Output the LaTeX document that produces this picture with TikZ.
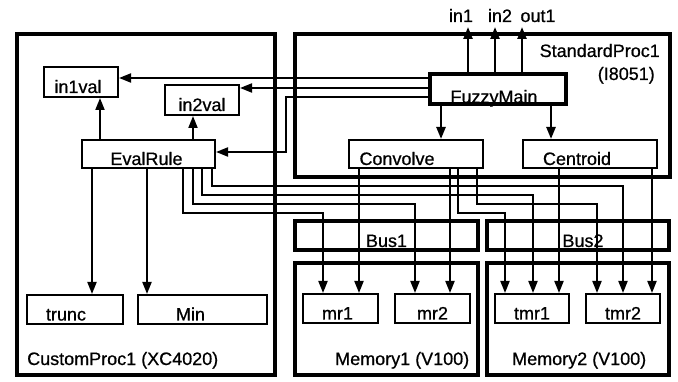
\documentclass[tikz,border=0pt]{standalone}
\usepackage{fontspec}
\setmainfont{Liberation Sans}[FakeBold=0.7]
\usetikzlibrary{arrows.meta}
\begin{document}
\begin{tikzpicture}[x=1pt,y=-1pt,
  every node/.style={font=\fontsize{18}{20}\selectfont},
  outerbox/.style={draw,line width=3.2pt,inner sep=0pt},
  busbox/.style={draw,line width=3.2pt,inner sep=0pt},
  blk/.style={draw,line width=2pt,inner sep=0pt,text height=22pt,text depth=0pt},
  wire/.style={line width=1.8pt},
  arr/.style={wire,-{Triangle[length=12pt,width=9pt]}},
  arrthick/.style={line width=2.4pt,-{Triangle[length=12pt,width=9pt]}},
  lbl/.style={inner sep=0pt}]
\useasboundingbox (0,0) rectangle (678,382);
% outer boxes
\node[outerbox,minimum width=258pt,minimum height=341pt] (cp) at (146,204.5) {};
\node[outerbox,minimum width=375pt,minimum height=143pt] (sp) at (482.5,105.5) {};
\node[busbox,minimum width=183pt,minimum height=29pt] (bus1) at (386.5,235.5) {};
\node[busbox,minimum width=182pt,minimum height=29pt] (bus2) at (578,235.5) {};
\node[outerbox,minimum width=183pt,minimum height=112pt] (mem1) at (386.5,319) {};
\node[outerbox,minimum width=182pt,minimum height=112pt] (mem2) at (578,319) {};
% labels
\node[lbl,anchor=base west] (cpl) at (27,365) {CustomProc1 (XC4020)};
\node[lbl,anchor=base east] (spl) at (660,57) {StandardProc1};
\node[lbl,anchor=base east] (spl2) at (655,80) {(I8051)};
\node[lbl,anchor=base west] (m1l) at (335,365) {Memory1 (V100)};
\node[lbl,anchor=base west] (m2l) at (512,365) {Memory2 (V100)};
\node[lbl,anchor=base] (b1l) at (386.5,247) {Bus1};
\node[lbl,anchor=base] (b2l) at (583,247) {Bus2};
\node[lbl,anchor=base] (in1) at (461,22) {in1};
\node[lbl,anchor=base] (in2) at (500,22) {in2};
\node[lbl,anchor=base] (out1) at (538,22) {out1};
% inner nodes
\node[blk,minimum width=74pt,minimum height=30pt] (in1val) at (81,82) {in1val\hspace*{6pt}};
\node[blk,minimum width=74pt,minimum height=30pt] (in2val) at (202,100) {in2val};
\node[blk,minimum width=133pt,minimum height=28pt] (eval) at (148.5,154) {EvalRule\hspace*{4pt}};
\node[blk,line width=3.2pt,text height=28pt,minimum width=136pt,minimum height=30pt] (fuzzy) at (498,89) {FuzzyMain\hspace*{8pt}};
\node[blk,minimum width=134pt,minimum height=28pt] (conv) at (416,154) {Convolve\hspace*{38pt}};
\node[blk,minimum width=134pt,minimum height=28pt] (cent) at (590,154) {Centroid\hspace*{26pt}};
\node[blk,minimum width=96pt,minimum height=29pt] (trunc) at (75,309.5) {trunc\hspace*{18pt}};
\node[blk,minimum width=129pt,minimum height=29pt] (min) at (202.5,309.5) {Min\hspace*{24pt}};
\node[blk,minimum width=75pt,minimum height=29pt] (mr1) at (340.5,308.5) {mr1\hspace*{6pt}};
\node[blk,minimum width=75pt,minimum height=29pt] (mr2) at (432.5,308.5) {mr2};
\node[blk,minimum width=74pt,minimum height=29pt] (tmr1) at (532,308.5) {tmr1};
\node[blk,minimum width=74pt,minimum height=29pt] (tmr2) at (623,308.5) {tmr2};
% io arrow ends
\coordinate (io1) at (468,27);
\coordinate (io2) at (495,27);
\coordinate (io3) at (522,27);
% FuzzyMain connectors
\draw[arrthick] (fuzzy.north -| 468,0) -- (io1);
\draw[arrthick] (fuzzy.north -| 495,0) -- (io2);
\draw[arrthick] (fuzzy.north -| 522,0) -- (io3);
\draw[arrthick] (fuzzy.south -| 441,0) -- (conv.north -| 441,0);
\draw[arrthick] (fuzzy.south -| 551,0) -- (cent.north -| 551,0);
\draw[arr] (fuzzy.west |- 0,78) -- (in1val.east |- 0,78);
\draw[arr] (fuzzy.west |- 0,88) -- (in2val.east |- 0,88);
\draw[arr] (fuzzy.west |- 0,97) -| (286,152) -- (eval.east |- 0,152);
% EvalRule connectors
\draw[arr] (eval.north -| 100,0) -- (in1val.south -| 100,0);
\draw[arr] (eval.north -| 193,0) -- (in2val.south -| 193,0);
\draw[arr] (eval.south -| 92,0) -- (trunc.north -| 92,0);
\draw[arr] (eval.south -| 147,0) -- (min.north -| 147,0);
\draw[arr] (eval.south -| 212,0) |- (623,186) -- (tmr2.north -| 623,0);
\draw[arr] (eval.south -| 202,0) |- (533,195) -- (tmr1.north -| 533,0);
\draw[arr] (eval.south -| 193,0) |- (415,204) -- (mr2.north -| 415,0);
\draw[arr] (eval.south -| 183,0) |- (323,213) -- (mr1.north -| 323,0);
% Convolve connectors
\draw[arr] (conv.south -| 359,0) -- (mr1.north -| 359,0);
\draw[arr] (conv.south -| 450,0) -- (mr2.north -| 450,0);
\draw[arr] (conv.south -| 458,0) |- (505,213) -- (tmr1.north -| 505,0);
\draw[arr] (conv.south -| 477,0) |- (597,204) -- (tmr2.north -| 597,0);
% Centroid connectors
\draw[arr] (cent.south -| 559,0) -- (tmr1.north -| 559,0);
\draw[arr] (cent.south -| 652,0) -- (tmr2.north -| 652,0);
\end{tikzpicture}
\end{document}
